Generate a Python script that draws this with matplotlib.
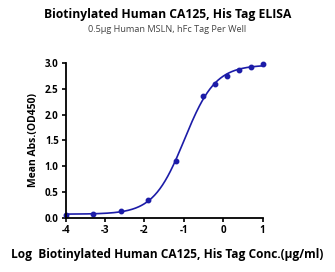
import numpy as np
import matplotlib
matplotlib.use("Agg")
from matplotlib import pyplot as plt

plt.rcParams['font.family'] = ['Open Sans', 'DejaVu Sans']
plt.rcParams['axes.unicode_minus'] = False

# log concentration (ug/ml) and mean OD450
log_conc = [-4.0, -3.301, -2.602, -1.903, -1.204, -0.505, -0.204, 0.097, 0.398, 0.699, 1.0]
od450 = [0.06, 0.07, 0.12, 0.34, 1.10, 2.36, 2.60, 2.76, 2.87, 2.93, 2.99]

title = "Biotinylated Human CA125, His Tag ELISA"
subtitle = "0.5\u03bcg Human MSLN, hFc Tag Per Well"
xlabel = "Log  Biotinylated Human CA125, His Tag Conc.(\u03bcg/ml)"
ylabel = "Mean Abs.(OD450)"
blue = "#1c1ca8"


def fourpl(x, p):
    b, t, c, h = p
    return b + (t - b) / (1 + 10 ** ((c - x) * h))


# fit 4PL curve to the points (simple Gauss-Newton)
x = np.array(log_conc)
y = np.array(od450)
p = np.array([0.05, 3.0, -1.0, 1.0])
for _ in range(200):
    r = y - fourpl(x, p)
    J = np.zeros((len(x), 4))
    for k in range(4):
        dp = np.zeros(4)
        dp[k] = 1e-6
        J[:, k] = (fourpl(x, p + dp) - fourpl(x, p)) / 1e-6
    step = np.linalg.lstsq(J, r, rcond=None)[0]
    p = p + 0.5 * step

xs = np.linspace(-4, 1, 300)

fig = plt.figure(figsize=(3.35, 2.72), dpi=100)
ax = fig.add_axes([0.196, 0.2, 0.588, 0.567])
ax.plot(xs, fourpl(xs, p), color=blue, lw=1.2, clip_on=False)
ax.plot(log_conc, od450, 'o', color=blue, ms=3.2, clip_on=False)

ax.set_xlim(-4, 1)
ax.set_ylim(0, 3)
ax.set_xticks(range(-4, 2))
ax.set_yticks([0, 0.5, 1.0, 1.5, 2.0, 2.5, 3.0])
ax.set_yticklabels(["0.0", "0.5", "1.0", "1.5", "2.0", "2.5", "3.0"])
for s in ['top', 'right']:
    ax.spines[s].set_visible(False)
for s in ['left', 'bottom']:
    ax.spines[s].set_linewidth(1.3)
ax.tick_params(width=1.2, length=3, labelsize=7, pad=2)
for lab in ax.get_xticklabels() + ax.get_yticklabels():
    lab.set_fontweight('bold')

ax.set_ylabel(ylabel, fontsize=7.5, fontweight='bold', labelpad=4)
fig.text(0.5, 0.065, xlabel, ha='center', va='center', fontsize=8.6, fontweight='bold')
fig.text(0.5, 0.945, title, ha='center', va='center', fontsize=8.7, fontweight='bold')
fig.text(0.5, 0.89, subtitle, ha='center', va='center', fontsize=6.6, color='#444444')

fig.savefig("out.png", dpi=100)
